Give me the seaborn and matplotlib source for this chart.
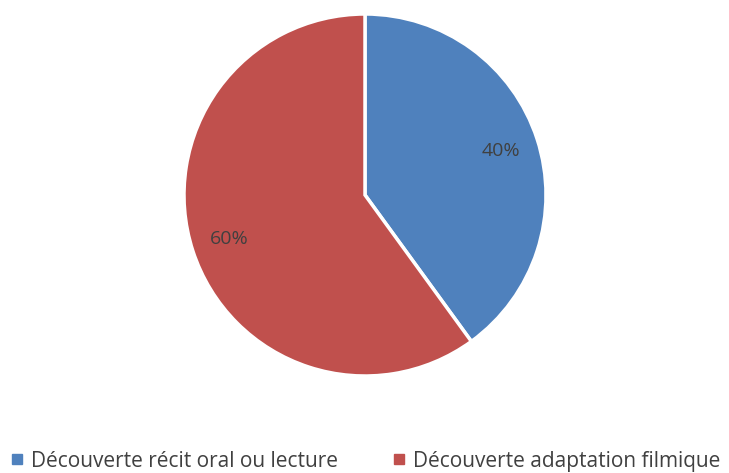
import numpy as np
import pandas as pd
import matplotlib.pyplot as plt
import seaborn as sns
from matplotlib.lines import Line2D

# data
labels = ['Découverte récit oral ou lecture', 'Découverte adaptation filmique']
values = [40, 60]
colors = ['#4F81BD', '#C0504D']

sns.set_theme(style='white')
plt.rcParams['font.family'] = ['Open Sans', 'DejaVu Sans']

fig = plt.figure(figsize=(7.29, 4.73), dpi=100)
cx, cy, r = 365, 195, 181
ax = fig.add_axes([(cx - r) / 729, (473 - cy - r) / 473, 2 * r / 729, 2 * r / 473])

wedges, texts, autotexts = ax.pie(values, colors=colors, startangle=90, counterclock=False,
                                  autopct='%1.0f%%', pctdistance=0.79,
                                  wedgeprops=dict(edgecolor='white', linewidth=2.5),
                                  textprops=dict(color='#404040', fontsize=14))
ax.set_xlim(-1, 1)
ax.set_ylim(-1, 1)
ax.set_aspect('equal')
ax.axis('off')

handles = [Line2D([0], [0], marker='s', linestyle='', markersize=7,
                  markerfacecolor=c, markeredgecolor=c) for c in colors]
fig.legend(handles, labels, loc='center', bbox_to_anchor=(0.5, (473 - 461) / 473),
           ncol=2, frameon=False, fontsize=15, labelcolor='#404040',
           handlelength=0.8, handletextpad=0.3, columnspacing=2.5)

fig.savefig('out.png', dpi=100)
